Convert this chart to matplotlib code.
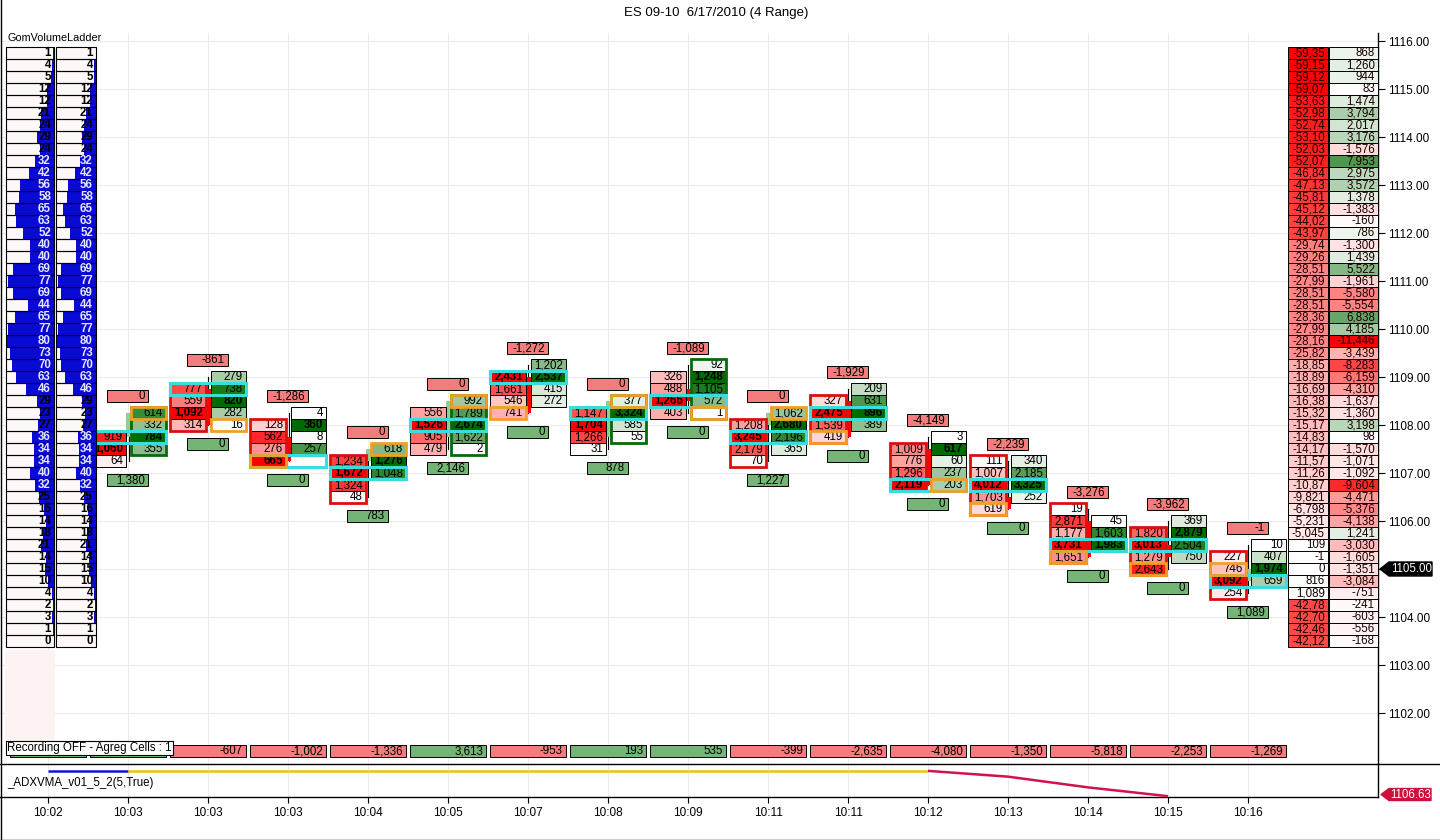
import matplotlib
matplotlib.use('Agg')
import matplotlib.pyplot as plt
from matplotlib.patches import Rectangle, Polygon
from matplotlib.lines import Line2D
import matplotlib.transforms as mtransforms
import numpy as np

plt.rcParams['font.family'] = ['Liberation Sans', 'DejaVu Sans']

# ---------------- data ----------------
title = "ES 09-10  6/17/2010 (4 Range)"
time_labels = ["10:02", "10:03", "10:03", "10:03", "10:04", "10:05", "10:07", "10:08",
               "10:09", "10:11", "10:11", "10:12", "10:13", "10:14", "10:15", "10:16"]
price_ticks = [1102, 1103, 1104, 1105, 1106, 1107, 1108, 1109, 1110, 1111, 1112, 1113, 1114, 1115, 1116]

# footprint bars (slots 1..15)
bid_top = [1107.75, 1108.75, 1108.0, 1107.25, 1108.25, 1109.0, 1108.25, 1109.0,
           1108.0, 1108.5, 1107.5, 1107.25, 1106.25, 1105.75, 1105.25]
bid_vals = [[919, 1060, 64], [777, 559, 1092, 314], [128, 562, 276, 665], [1234, 1672, 1324, 48],
            [556, 1526, 905, 479], [2431, 1661, 546, 741], [1147, 1704, 1266, 31], [326, 488, 1266, 403],
            [1208, 3245, 2179, 70], [327, 2475, 1539, 419], [1009, 776, 1296, 2119],
            [111, 1007, 4012, 1703, 619], [19, 2871, 1177, 3731, 1651], [1820, 3013, 1279, 2643],
            [227, 746, 3092, 254]]
ask_top = [1108.25, 1109.0, 1108.25, 1107.5, 1108.5, 1109.25, 1108.5, 1109.25,
           1108.25, 1108.75, 1107.75, 1107.25, 1106.0, 1106.0, 1105.5]
ask_vals = [[614, 332, 784, 355], [279, 738, 820, 282, 16], [4, 360, 8, 257], [618, 1276, 1048],
            [992, 1789, 2674, 1622, 2], [1202, 2537, 415, 272], [377, 3324, 585, 55], [92, 1248, 1105, 572, 1],
            [1062, 2680, 2196, 365], [209, 631, 896, 389], [3, 617, 60, 237, 203], [340, 2185, 3325, 252],
            [45, 1603, 1983], [369, 2879, 2504, 750], [10, 407, 1974, 659]]
cyan_price = [1107.75, 1108.75, 1107.25, 1107.0, 1108.0, 1109.0, 1108.25, 1108.5,
              1107.75, 1108.25, 1106.75, 1106.75, 1105.5, 1105.5, 1104.75]
orange_side = ['ask', 'ask', 'bid', 'ask', 'ask', 'bid', 'ask', 'ask', 'ask', 'bid', 'ask', 'bid', 'bid', 'bid', 'bid']
orange_price = [1108.25, 1108.0, 1107.25, 1107.5, 1108.5, 1108.25, 1108.5, 1108.25,
                1108.25, 1107.75, 1106.75, 1106.25, 1105.25, 1105.0, 1105.0]
frame_side = ['ask', 'bid', 'bid', 'bid', 'ask', None, 'ask', 'ask', 'bid', 'bid', 'bid', 'bid', 'bid', 'bid', 'bid']
top_delta = ["0", "-861", "-1,286", "0", "0", "-1,272", "0", "-1,089", "0", "-1,929",
             "-4,149", "-2,239", "-3,276", "-3,962", "-1"]
bottom_vol = ["1,380", "0", "0", "783", "2,146", "0", "878", "0", "1,227", "0",
              "0", "0", "0", "0", "1,089"]
c_open = [1107.75, 1108.75, 1107.75, 1107.25, 1107.75, 1109.0, 1107.75, 1108.75,
          1108.0, 1108.5, 1107.5, 1106.5, 1106.0, 1105.5, 1104.75]
c_high = [1108.25, 1109.0, 1108.25, 1107.5, 1108.5, 1109.25, 1108.5, 1109.25,
          1108.25, 1108.75, 1107.75, 1107.25, 1106.25, 1106.0, 1105.5]
c_low = [1107.25, 1108.0, 1107.25, 1106.5, 1107.5, 1108.25, 1107.5, 1108.25,
         1107.25, 1107.75, 1106.75, 1106.25, 1105.25, 1105.0, 1104.5]
c_close = [1108.25, 1108.0, 1107.25, 1107.5, 1108.5, 1108.25, 1108.5, 1108.5,
           1108.25, 1107.75, 1106.75, 1106.25, 1105.25, 1105.25, 1105.0]

# bottom delta row (slots 0..15); first two hidden under the status label
row_delta = ["", "", "-607", "-1,002", "-1,336", "3,613", "-953", "193", "535", "-399",
             "-2,635", "-4,080", "-1,350", "-5,818", "-2,253", "-1,269"]

# left volume ladder (from 1115.75 down, 0.25 steps)
ladder_top_price = 1115.75
vol_ladder = [1, 4, 5, 12, 12, 21, 24, 29, 24, 32, 42, 56, 58, 65, 63, 52, 40, 40, 69, 77, 69, 44, 65, 77, 80,
              73, 70, 63, 46, 29, 23, 27, 36, 34, 34, 40, 32, 25, 16, 14, 18, 21, 14, 15, 10, 4, 2, 3, 1, 0]

# right ladder columns
rl_col1 = ["-59,35", "-59,15", "-59,12", "-59,07", "-53,63", "-52,98", "-52,74", "-53,10", "-52,03", "-52,07",
           "-46,84", "-47,13", "-45,81", "-45,12", "-44,02", "-43,97", "-29,74", "-29,26", "-28,51", "-27,99",
           "-28,51", "-28,51", "-28,36", "-27,99", "-28,16", "-25,82", "-18,85", "-18,89", "-16,69", "-16,38",
           "-15,32", "-15,17", "-14,83", "-14,17", "-11,57", "-11,26", "-10,87", "-9,821", "-6,798", "-5,231",
           "-5,045", "109", "-1", "0", "816", "1,089", "-42,78", "-42,70", "-42,46", "-42,12"]
rl_col2 = ["868", "1,260", "944", "83", "1,474", "3,794", "2,017", "3,176", "-1,576", "7,953",
           "2,975", "3,572", "1,378", "-1,383", "-160", "786", "-1,300", "1,439", "5,522", "-1,961",
           "-5,580", "-5,554", "6,838", "4,185", "-11,446", "-3,439", "-8,283", "-6,159", "-4,310", "-1,637",
           "-1,360", "3,198", "98", "-1,570", "-1,071", "-1,092", "-9,604", "-4,471", "-5,376", "-4,138",
           "1,241", "-3,030", "-1,605", "-1,351", "-3,084", "-751", "-241", "-603", "-556", "-168"]

# ADXVMA indicator (slots 0..14)
adx_vals = [1107.55, 1107.55, 1107.55, 1107.55, 1107.55, 1107.55, 1107.55, 1107.55,
            1107.55, 1107.55, 1107.55, 1107.55, 1107.34, 1106.95, 1106.63]
adx_seg_colors = ['#1010e0', '#f2c200', '#f2c200', '#f2c200', '#f2c200', '#f2c200', '#f2c200',
                  '#f2c200', '#f2c200', '#f2c200', '#f2c200', '#d0144a', '#d0144a', '#d0144a']

# ---------------- layout ----------------
W, H = 1440, 840
SLOT_PX, SLOT0_PX, PRICE_PX = 80.0, 48.0, 48.0
ROW = 0.25
FS = 8.3
RED_F = '#f47c7c'
GRN_F = '#74b474'

def fy(py):
    return 1 - py / H

def fxf(px):
    return px / W

def xs(px):  # horizontal pixel offset -> slot units
    return px / SLOT_PX

def xabs(px):  # absolute pixel -> data x
    return (px - SLOT0_PX) / SLOT_PX

def ps(px):  # vertical pixel offset -> price units
    return px / PRICE_PX

def mix(t, positive, green=(0.0, 0.42, 0.0), red=(1.0, 0.0, 0.0)):
    t = max(0.0, min(1.0, t))
    base = np.array(green if positive else red)
    return tuple(np.array([1.0, 1.0, 1.0]) * (1 - t) + base * t)

last_price = c_close[-1]

fig = plt.figure(figsize=(14.4, 8.4), dpi=100)
fig.patch.set_facecolor('white')

ax = fig.add_axes([0, fy(764), fxf(1378), (764 - 33) / H])
ax.set_xlim(xabs(0), xabs(1378))
ax.set_ylim(1116 - ps(764 - 41), 1116 + ps(41 - 33))
ax.set_xticks(range(len(time_labels)))
ax.set_xticklabels([])
ax.tick_params(axis='x', length=0)
ax.set_yticks(price_ticks)
# the last-price marker covers its own tick label
ax.set_yticklabels(["" if p == last_price else f"{p:.2f}" for p in price_ticks])
ax.yaxis.tick_right()
ax.tick_params(axis='y', length=5, width=0.8, labelsize=8.5, pad=2, colors='black')
ax.grid(True, color='#ececec', lw=0.8, zorder=0)
ax.set_axisbelow(True)
for s in ['top', 'left', 'bottom']:
    ax.spines[s].set_visible(False)
ax.spines['right'].set_color('black')
ax.spines['right'].set_linewidth(1.0)

# ---- footprint bars ----
for i in range(len(bid_top)):
    s = i + 1
    # candle
    o, h, l, c = c_open[i], c_high[i], c_low[i], c_close[i]
    ax.add_line(Line2D([s + xs(0.5), s + xs(0.5)], [l, h], color='black', lw=0.8, zorder=2))
    if c != o:
        ax.add_patch(Rectangle((s + xs(-2), min(o, c)), xs(5), abs(c - o),
                               fc=('#ff0000' if c < o else '#8fd08f'), ec='none', zorder=2.5))
    cols = {'bid': (bid_top[i], bid_vals[i], -38, -2), 'ask': (ask_top[i], ask_vals[i], 3, 38)}
    for side, (top, vals, x0, x1) in cols.items():
        vmax = max(vals)
        for k, v in enumerate(vals):
            p = top - k * ROW
            fc = mix(v / vmax, side == 'ask')
            ax.add_patch(Rectangle((s + xs(x0), p - ROW / 2), xs(x1 - x0), ROW,
                                   fc=fc, ec='black', lw=0.7, zorder=3))
            ax.text(s + xs(x1 - 3), p, f"{v:,}", ha='right', va='center', fontsize=FS,
                    fontweight='bold' if v == vmax else 'normal', color='black', zorder=4)
    # frame around dominant column
    if frame_side[i] is not None:
        top, vals, x0, x1 = cols[frame_side[i]]
        bot = top - (len(vals) - 1) * ROW
        ax.add_patch(Rectangle((s + xs(x0), bot - ROW / 2), xs(x1 - x0), top - bot + ROW,
                               fc='none', ec=('#d81010' if frame_side[i] == 'bid' else '#0a6a0a'),
                               lw=2.0, zorder=5))
    # cyan POC row
    ax.add_patch(Rectangle((s + xs(-38), cyan_price[i] - ROW / 2), xs(76), ROW,
                           fc='none', ec='#3cdcdc', lw=2.2, zorder=5.5))
    # orange cell
    _, _, ox0, ox1 = cols[orange_side[i]]
    ax.add_patch(Rectangle((s + xs(ox0), orange_price[i] - ROW / 2), xs(ox1 - ox0), ROW,
                           fc='none', ec='#f0a028', lw=2.0, zorder=6))
    # top delta / bottom volume boxes
    hi = max(bid_top[i], ask_top[i])
    lo = min(bid_top[i] - (len(bid_vals[i]) - 1) * ROW, ask_top[i] - (len(ask_vals[i]) - 1) * ROW)
    for yc, txt, col in [(hi + 0.35, top_delta[i], RED_F), (lo - 0.4, bottom_vol[i], GRN_F)]:
        ax.add_patch(Rectangle((s + xs(-21), yc - ROW / 2), xs(41), ROW, fc=col, ec='black', lw=0.7, zorder=3))
        ax.text(s + xs(17), yc, txt, ha='right', va='center', fontsize=FS, zorder=4)

# ---- bottom delta row ----
row_y = 1116 - ps(751 - 41)
for j, txt in enumerate(row_delta):
    col = RED_F if txt.startswith('-') else GRN_F
    ax.add_patch(Rectangle((j + xs(-38), row_y - ROW / 2), xs(76), ROW, fc=col, ec='black', lw=0.7, zorder=3))
    ax.text(j + xs(35), row_y, txt, ha='right', va='center', fontsize=FS, zorder=4)

# ---- left volume ladder ----
ax.add_patch(Rectangle((xabs(5), 1116 - ps(745 - 41)), xabs(55) - xabs(5), ps(745 - 650),
                       fc='#fdf3f3', ec='none', zorder=1))
vmax_l = max(vol_ladder)
for k, v in enumerate(vol_ladder):
    p = ladder_top_price - k * ROW
    for (x0, x1) in [(6, 54), (56, 96)]:
        X0, X1 = xabs(x0), xabs(x1)
        ax.add_patch(Rectangle((X0, p - ROW / 2), X1 - X0, ROW, fc='#fff8f8', ec='none', zorder=6.5))
        wbar = (X1 - X0) * v / vmax_l
        ax.add_patch(Rectangle((X1 - wbar, p - ROW / 2), wbar, ROW, fc='#0a0ad6', ec='none', zorder=6.6))
        ax.add_patch(Rectangle((X0, p - ROW / 2), X1 - X0, ROW, fc='none', ec='black', lw=0.8, zorder=6.7))
        ax.text(X1 - xs(3), p, str(v), ha='right', va='center', fontsize=FS, fontweight='bold',
                color=('#e6e6ff' if v / vmax_l > 0.38 else 'black'), zorder=7)
ax.text(xabs(7), 1116 - ps(38 - 41), "GomVolumeLadder", ha='left', va='center', fontsize=7.8, zorder=7)

# ---- right ladder ----
def parse_k(sv):
    return float(sv.replace(',', '.')) if ',' in sv else float(sv) / 1000.0

c1 = [parse_k(v) for v in rl_col1]
c2 = [float(v.replace(',', '')) for v in rl_col2]
m1 = max(abs(v) for v in c1)
m2 = max(abs(v) for v in c2)
for k in range(len(rl_col1)):
    p = ladder_top_price - k * ROW
    for (x0, x1), txt, val, mx in [((1288, 1328), rl_col1[k], c1[k], m1), ((1329, 1378), rl_col2[k], c2[k], m2)]:
        X0, X1 = xabs(x0), xabs(x1)
        fc = mix(abs(val) / mx, val > 0)
        ax.add_patch(Rectangle((X0, p - ROW / 2), X1 - X0, ROW, fc=fc, ec='black', lw=0.7, zorder=6.5))
        bold = abs(val) == mx and mx == m2 and x0 == 1329
        ax.text(X1 - xs(3), p, txt, ha='right', va='center', fontsize=FS,
                fontweight='bold' if bold else 'normal',
                color=('#5a0000' if bold else '#1a0000'), zorder=7)

# ---- status label ----
fig.text(fxf(7), fy(748), "Recording OFF - Agreg Cells : 1", ha='left', va='center', fontsize=FS,
         bbox=dict(boxstyle='square,pad=0.12', fc='white', ec='black', lw=0.8), zorder=10)

# ---- last price marker ----
bt = mtransforms.blended_transform_factory(fig.transFigure, ax.transData)
ax.add_patch(Polygon([(fxf(1380), last_price), (fxf(1389), last_price + ps(7)), (fxf(1432), last_price + ps(7)),
                      (fxf(1432), last_price - ps(7)), (fxf(1389), last_price - ps(7))],
                     closed=True, fc='black', ec='black', transform=bt, clip_on=False, zorder=8))
ax.text(fxf(1391), last_price, f"{last_price:.2f}", transform=bt, ha='left', va='center',
        fontsize=FS, color='white', clip_on=False, zorder=9)

# ---- lower indicator panel ----
ax2 = fig.add_axes([0, fy(797), fxf(1378), (797 - 764) / H])
ax2.set_xlim(xabs(0), xabs(1378))
ax2.set_ylim(1106.60, 1107.80)
ax2.set_xticks(range(len(time_labels)))
ax2.set_xticklabels(time_labels)
ax2.tick_params(axis='x', length=4, width=0.8, labelsize=8.5, pad=3)
ax2.set_yticks([])
ax2.grid(True, axis='x', color='#ececec', lw=0.8)
ax2.set_axisbelow(True)
for s_ in ['top', 'left']:
    ax2.spines[s_].set_visible(False)
ax2.spines['bottom'].set_linewidth(1.0)
ax2.spines['right'].set_linewidth(1.0)
for j in range(len(adx_vals) - 1):
    ax2.plot([j, j + 1], [adx_vals[j], adx_vals[j + 1]], color=adx_seg_colors[j], lw=1.8,
             solid_capstyle='butt', zorder=3)
ax2.text(xabs(7), 1107.80 - (783 - 764) / 33 * 1.2, "_ADXVMA_v01_5_2(5,True)", ha='left', va='center', fontsize=FS)
adx_last = adx_vals[-1]
bt2 = mtransforms.blended_transform_factory(fig.transFigure, ax2.transData)
dy2 = 6 / 33 * 1.2
ym = adx_last + 0.06
ax2.add_patch(Polygon([(fxf(1381), ym), (fxf(1389), ym + dy2), (fxf(1431), ym + dy2),
                       (fxf(1431), ym - dy2), (fxf(1389), ym - dy2)],
                      closed=True, fc='#d0103c', ec='#d0103c', transform=bt2, clip_on=False, zorder=8))
ax2.text(fxf(1390), ym, f"{adx_last:.2f}", transform=bt2, ha='left', va='center',
         fontsize=FS, color='white', clip_on=False, zorder=9)

# ---- figure lines / title ----
fig.add_artist(Line2D([0, 1], [fy(764), fy(764)], color='black', lw=1.0, transform=fig.transFigure))
fig.add_artist(Line2D([fxf(0.5), fxf(0.5)], [0, 1], color='black', lw=1.0, transform=fig.transFigure))
fig.add_artist(Line2D([0, 1], [fy(839.5), fy(839.5)], color='black', lw=1.0, transform=fig.transFigure))
fig.text(fxf(716), fy(13), title, ha='center', va='center', fontsize=9.5)

fig.savefig('out.png', dpi=100, facecolor='white')
